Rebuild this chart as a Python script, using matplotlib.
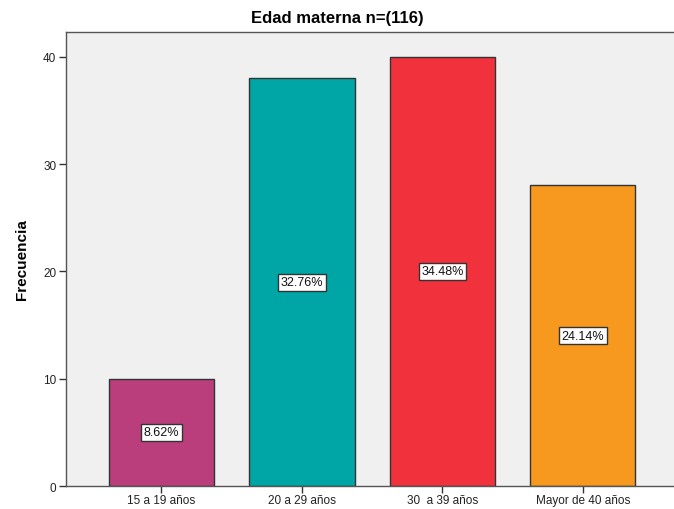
import matplotlib.pyplot as plt

categories = ["15 a 19 años", "20 a 29 años", "30  a 39 años", "Mayor de 40 años"]
counts = [10, 38, 40, 28]
percent_labels = ["8.62%", "32.76%", "34.48%", "24.14%"]
colors = ["#BA3E7C", "#00A6A5", "#F1323C", "#F7991F"]

plt.rcParams['font.family'] = ['Liberation Sans', 'DejaVu Sans']

fig = plt.figure(figsize=(6.74, 5.10), dpi=100)
ax = fig.add_axes([66 / 674, 1 - 487 / 510, 1 - 66 / 674, (487 - 33) / 510])
ax.set_facecolor("#F0F0F0")

x = range(len(categories))
ax.bar(x, counts, width=0.75, color=colors, edgecolor="#333333", linewidth=1.0, zorder=2)

for i, (c, lab) in enumerate(zip(counts, percent_labels)):
    ax.text(i, c / 2, lab, ha="center", va="center", fontsize=9, color="#111111",
            bbox=dict(boxstyle="square,pad=0.2", facecolor="white", edgecolor="#333333", linewidth=1.0),
            zorder=3)

ax.set_xlim(-0.68, 3.65)
ax.set_ylim(0, 42.3)
ax.set_yticks([0, 10, 20, 30, 40])
ax.set_xticks(list(x))
ax.set_xticklabels(categories, fontsize=8.5)
ax.tick_params(axis="y", labelsize=8.5, length=5, width=1, pad=2, colors="#333333", labelcolor="#222222")
ax.tick_params(axis="x", length=5, width=1, pad=1, colors="#333333", labelcolor="#222222")

for side in ["left", "top", "bottom", "right"]:
    ax.spines[side].set_color("#555555")
    ax.spines[side].set_linewidth(1.0)
ax.spines["right"].set_visible(False)

ax.set_ylabel("Frecuencia", fontsize=11, fontweight="bold", labelpad=10)
fig.text(0.5, 1 - 18 / 510, "Edad materna n=(116)", ha="center", va="center",
         fontsize=12, fontweight="bold")

fig.savefig("out.png", dpi=100)
